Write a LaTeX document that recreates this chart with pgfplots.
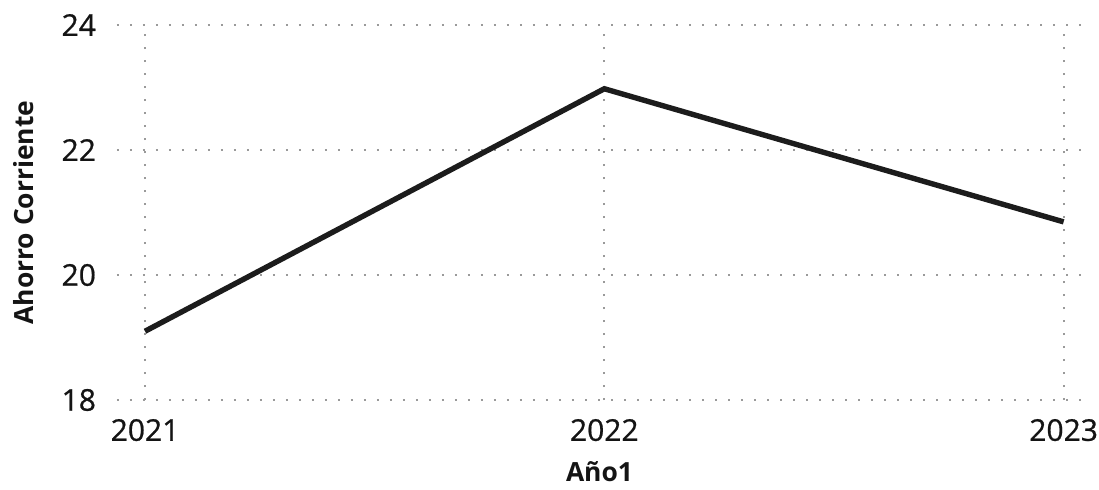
\documentclass[border=0pt]{standalone}
\usepackage{fontspec}
\setmainfont{Open Sans}
\newfontfamily\tickfont[FakeBold=0.7]{Open Sans}
\usepackage{pgfplots}
\pgfplotsset{compat=1.18}
\definecolor{txt}{HTML}{141414}
\definecolor{gridc}{HTML}{9A9A9A}
\definecolor{linec}{HTML}{1C1C1C}
\begin{document}
\begin{tikzpicture}
\path[use as bounding box] (-58.5pt,-44.5pt) rectangle (491pt,200pt);
\begin{axis}[
  at={(0,0)}, anchor=south west,
  scale only axis, width=482.5pt, height=187.5pt,
  xmin=-0.061, xmax=2.04, ymin=18, ymax=24,
  axis line style={draw=none},
  xtick={0,1,2}, xticklabels={2021,2022,2023},
  ytick={18,20,22,24},
  major tick length=0pt,
  grid=major,
  major grid style={gridc, line width=1pt, dash pattern=on 1pt off 5.5pt},
  /pgf/number format/assume math mode=true,
  tick label style={font=\tickfont\fontsize{15}{18}\selectfont, text=txt},
  xticklabel style={anchor=north, yshift=-6pt},
  yticklabel style={anchor=east, xshift=-7pt},
  xlabel={Año1},
  ylabel={Ahorro Corriente},
  label style={font=\fontsize{13.2}{16}\selectfont\bfseries, text=txt},
  xlabel style={at={(axis description cs:0.5,0)}, anchor=center, yshift=-36pt},
  ylabel style={at={(axis description cs:-0.0964,0.5)}, anchor=center},
]
\addplot[linec, line width=2.7pt, mark=none] coordinates {(0,19.1) (1,22.98) (2,20.85)};
\end{axis}
\end{tikzpicture}
\end{document}
